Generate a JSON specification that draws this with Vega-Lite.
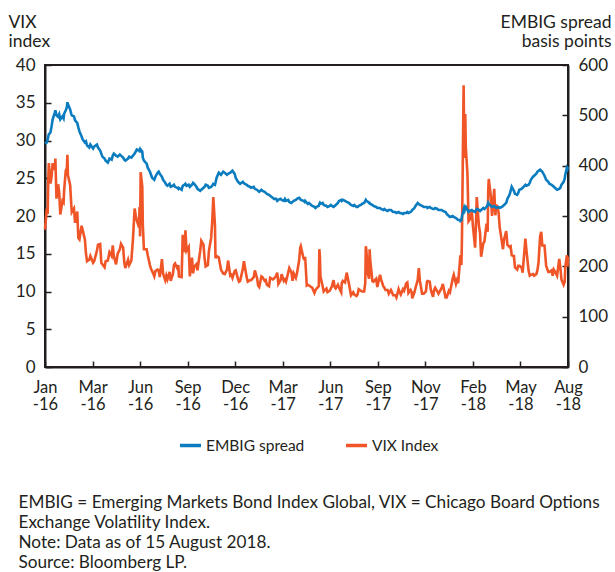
{
  "$schema": "https://vega.github.io/schema/vega-lite/v6.json",
  "width": 523,
  "height": 302,
  "autosize": {"type": "none"},
  "padding": {"left": 45, "top": 65, "right": 47, "bottom": 205},
  "background": "white",
  "config": {
    "font": "Lato",
    "view": {"stroke": "#231f20", "strokeWidth": 2},
    "axis": {
      "domainColor": "#231f20", "domainWidth": 2, "tickColor": "#231f20", "tickWidth": 1.5,
      "tickSize": -6, "labelFontSize": 17, "labelColor": "#231f20", "titleColor": "#231f20",
      "grid": false, "titleFontWeight": "normal", "labelFont": "Lato", "titleFont": "Lato"
    },
    "legend": {"labelFontSize": 15.5, "labelColor": "#231f20", "labelFont": "Lato"}
  },
  "data": {"values": [
{"d":"2016-01-01","v":18.2,"e":444},{"d":"2016-01-04","v":20.7,"e":446},{"d":"2016-01-06","v":20.6,"e":452},{"d":"2016-01-07","v":25.0,"e":458},{"d":"2016-01-08","v":27.0,"e":462},{"d":"2016-01-11","v":24.3,"e":466},{"d":"2016-01-13","v":25.2,"e":478},{"d":"2016-01-15","v":27.0,"e":492},{"d":"2016-01-19","v":26.1,"e":506},{"d":"2016-01-20","v":27.6,"e":510},{"d":"2016-01-22","v":22.3,"e":500},{"d":"2016-01-25","v":24.2,"e":497},{"d":"2016-01-27","v":23.1,"e":502},{"d":"2016-01-29","v":20.2,"e":492},
{"d":"2016-02-02","v":22.0,"e":498},{"d":"2016-02-04","v":21.8,"e":494},{"d":"2016-02-05","v":23.4,"e":503},{"d":"2016-02-08","v":26.0,"e":510},{"d":"2016-02-10","v":26.3,"e":516},{"d":"2016-02-11","v":28.1,"e":526},{"d":"2016-02-12","v":25.4,"e":522},{"d":"2016-02-16","v":24.1,"e":512},{"d":"2016-02-18","v":21.6,"e":503},{"d":"2016-02-19","v":20.5,"e":500},{"d":"2016-02-23","v":21.0,"e":498},{"d":"2016-02-25","v":19.1,"e":490},{"d":"2016-02-29","v":20.6,"e":485},
{"d":"2016-03-02","v":17.1,"e":476},{"d":"2016-03-04","v":16.9,"e":468},{"d":"2016-03-08","v":18.7,"e":458},{"d":"2016-03-10","v":18.1,"e":452},{"d":"2016-03-14","v":16.9,"e":446},{"d":"2016-03-16","v":15.0,"e":448},{"d":"2016-03-18","v":14.0,"e":440},{"d":"2016-03-22","v":14.2,"e":436},{"d":"2016-03-24","v":14.7,"e":442},{"d":"2016-03-29","v":13.8,"e":434},{"d":"2016-03-31","v":14.0,"e":438},
{"d":"2016-04-05","v":15.4,"e":442},{"d":"2016-04-07","v":16.2,"e":436},{"d":"2016-04-11","v":16.3,"e":430},{"d":"2016-04-13","v":13.8,"e":424},{"d":"2016-04-15","v":13.6,"e":418},{"d":"2016-04-19","v":13.2,"e":414},{"d":"2016-04-21","v":14.0,"e":410},{"d":"2016-04-25","v":14.1,"e":406},{"d":"2016-04-28","v":15.2,"e":414},
{"d":"2016-05-02","v":14.7,"e":412},{"d":"2016-05-04","v":16.1,"e":420},{"d":"2016-05-06","v":14.7,"e":424},{"d":"2016-05-10","v":13.6,"e":420},{"d":"2016-05-13","v":15.0,"e":418},{"d":"2016-05-17","v":15.6,"e":422},{"d":"2016-05-19","v":16.3,"e":420},{"d":"2016-05-23","v":15.8,"e":416},{"d":"2016-05-25","v":13.9,"e":412},{"d":"2016-05-27","v":13.1,"e":410},
{"d":"2016-06-01","v":14.2,"e":414},{"d":"2016-06-03","v":13.5,"e":418},{"d":"2016-06-07","v":14.1,"e":416},{"d":"2016-06-10","v":17.0,"e":420},{"d":"2016-06-13","v":21.0,"e":424},{"d":"2016-06-15","v":20.1,"e":428},{"d":"2016-06-17","v":19.4,"e":432},{"d":"2016-06-21","v":18.5,"e":430},{"d":"2016-06-22","v":21.2,"e":432},{"d":"2016-06-23","v":17.3,"e":426},{"d":"2016-06-24","v":25.8,"e":432},{"d":"2016-06-27","v":23.9,"e":428},{"d":"2016-06-28","v":18.8,"e":416},{"d":"2016-06-30","v":15.6,"e":410},
{"d":"2016-07-05","v":15.6,"e":404},{"d":"2016-07-07","v":14.8,"e":396},{"d":"2016-07-11","v":13.5,"e":388},{"d":"2016-07-13","v":13.0,"e":382},{"d":"2016-07-15","v":12.7,"e":376},{"d":"2016-07-19","v":12.0,"e":372},{"d":"2016-07-21","v":12.7,"e":378},{"d":"2016-07-25","v":12.9,"e":386},{"d":"2016-07-27","v":12.8,"e":388},{"d":"2016-07-29","v":11.9,"e":384},
{"d":"2016-08-02","v":14.3,"e":378},{"d":"2016-08-04","v":12.4,"e":372},{"d":"2016-08-08","v":11.5,"e":366},{"d":"2016-08-10","v":12.1,"e":362},{"d":"2016-08-12","v":11.6,"e":360},{"d":"2016-08-16","v":12.6,"e":364},{"d":"2016-08-18","v":11.4,"e":358},{"d":"2016-08-22","v":12.3,"e":360},{"d":"2016-08-24","v":13.5,"e":362},{"d":"2016-08-26","v":13.7,"e":358},{"d":"2016-08-30","v":13.1,"e":356},
{"d":"2016-09-01","v":13.5,"e":354},{"d":"2016-09-02","v":12.0,"e":356},{"d":"2016-09-07","v":11.9,"e":352},{"d":"2016-09-09","v":17.5,"e":360},{"d":"2016-09-12","v":15.2,"e":362},{"d":"2016-09-14","v":18.1,"e":364},{"d":"2016-09-16","v":15.4,"e":360},{"d":"2016-09-20","v":15.9,"e":362},{"d":"2016-09-22","v":12.0,"e":358},{"d":"2016-09-26","v":14.5,"e":362},{"d":"2016-09-28","v":12.4,"e":366},{"d":"2016-09-30","v":13.3,"e":364},
{"d":"2016-10-04","v":13.6,"e":358},{"d":"2016-10-06","v":12.8,"e":354},{"d":"2016-10-11","v":15.4,"e":350},{"d":"2016-10-13","v":16.7,"e":352},{"d":"2016-10-17","v":16.2,"e":356},{"d":"2016-10-19","v":14.4,"e":358},{"d":"2016-10-21","v":13.3,"e":362},{"d":"2016-10-25","v":13.5,"e":360},{"d":"2016-10-27","v":15.4,"e":356},{"d":"2016-10-31","v":17.1,"e":358},
{"d":"2016-11-02","v":19.3,"e":360},{"d":"2016-11-04","v":22.5,"e":364},{"d":"2016-11-07","v":18.7,"e":362},{"d":"2016-11-08","v":14.4,"e":366},{"d":"2016-11-10","v":14.7,"e":376},{"d":"2016-11-14","v":14.5,"e":386},{"d":"2016-11-16","v":13.7,"e":384},{"d":"2016-11-18","v":12.9,"e":382},{"d":"2016-11-22","v":12.4,"e":388},{"d":"2016-11-25","v":12.3,"e":386},{"d":"2016-11-29","v":12.9,"e":382},
{"d":"2016-12-01","v":14.1,"e":384},{"d":"2016-12-05","v":12.1,"e":386},{"d":"2016-12-07","v":12.2,"e":388},{"d":"2016-12-09","v":11.8,"e":390},{"d":"2016-12-13","v":12.7,"e":384},{"d":"2016-12-15","v":12.8,"e":376},{"d":"2016-12-19","v":11.7,"e":368},{"d":"2016-12-21","v":11.3,"e":366},{"d":"2016-12-23","v":11.4,"e":364},{"d":"2016-12-28","v":13.0,"e":368},{"d":"2016-12-30","v":14.0,"e":365},
{"d":"2017-01-04","v":11.9,"e":362},{"d":"2017-01-06","v":11.3,"e":360},{"d":"2017-01-10","v":11.5,"e":358},{"d":"2017-01-12","v":11.5,"e":356},{"d":"2017-01-17","v":11.9,"e":358},{"d":"2017-01-19","v":12.8,"e":354},{"d":"2017-01-23","v":11.8,"e":352},{"d":"2017-01-25","v":10.8,"e":350},{"d":"2017-01-27","v":10.6,"e":348},{"d":"2017-01-31","v":12.0,"e":352},
{"d":"2017-02-02","v":11.9,"e":350},{"d":"2017-02-06","v":11.4,"e":348},{"d":"2017-02-08","v":11.5,"e":346},{"d":"2017-02-10","v":10.9,"e":344},{"d":"2017-02-14","v":10.7,"e":342},{"d":"2017-02-16","v":11.8,"e":340},{"d":"2017-02-21","v":11.6,"e":336},{"d":"2017-02-23","v":11.7,"e":334},{"d":"2017-02-27","v":12.1,"e":334},
{"d":"2017-03-01","v":12.5,"e":330},{"d":"2017-03-03","v":11.0,"e":332},{"d":"2017-03-07","v":11.5,"e":334},{"d":"2017-03-09","v":12.3,"e":332},{"d":"2017-03-13","v":11.4,"e":330},{"d":"2017-03-15","v":11.6,"e":334},{"d":"2017-03-17","v":11.3,"e":330},{"d":"2017-03-21","v":12.5,"e":332},{"d":"2017-03-23","v":13.1,"e":328},{"d":"2017-03-27","v":12.5,"e":326},{"d":"2017-03-29","v":11.4,"e":328},{"d":"2017-03-31","v":12.4,"e":330},
{"d":"2017-04-04","v":11.8,"e":332},{"d":"2017-04-06","v":12.4,"e":334},{"d":"2017-04-10","v":14.1,"e":336},{"d":"2017-04-12","v":15.8,"e":334},{"d":"2017-04-13","v":16.0,"e":332},{"d":"2017-04-18","v":14.4,"e":330},{"d":"2017-04-20","v":14.2,"e":328},{"d":"2017-04-21","v":14.6,"e":330},{"d":"2017-04-24","v":10.8,"e":326},{"d":"2017-04-26","v":10.9,"e":324},{"d":"2017-04-28","v":10.8,"e":326},
{"d":"2017-05-02","v":10.6,"e":322},{"d":"2017-05-04","v":10.5,"e":320},{"d":"2017-05-08","v":9.8,"e":318},{"d":"2017-05-10","v":10.2,"e":316},{"d":"2017-05-12","v":10.4,"e":318},{"d":"2017-05-16","v":10.7,"e":320},{"d":"2017-05-17","v":15.6,"e":324},{"d":"2017-05-18","v":14.7,"e":326},{"d":"2017-05-19","v":12.0,"e":324},{"d":"2017-05-23","v":10.7,"e":326},{"d":"2017-05-25","v":10.0,"e":322},{"d":"2017-05-30","v":10.4,"e":320},
{"d":"2017-06-01","v":9.9,"e":318},{"d":"2017-06-05","v":10.1,"e":320},{"d":"2017-06-07","v":10.4,"e":322},{"d":"2017-06-09","v":10.7,"e":320},{"d":"2017-06-12","v":11.5,"e":318},{"d":"2017-06-14","v":10.6,"e":320},{"d":"2017-06-16","v":10.4,"e":322},{"d":"2017-06-20","v":10.9,"e":326},{"d":"2017-06-22","v":10.5,"e":330},{"d":"2017-06-26","v":9.9,"e":332},{"d":"2017-06-27","v":11.1,"e":330},{"d":"2017-06-29","v":11.4,"e":332},
{"d":"2017-07-03","v":11.2,"e":330},{"d":"2017-07-06","v":12.5,"e":328},{"d":"2017-07-10","v":11.1,"e":326},{"d":"2017-07-12","v":10.3,"e":324},{"d":"2017-07-14","v":9.5,"e":322},{"d":"2017-07-18","v":9.9,"e":320},{"d":"2017-07-20","v":9.6,"e":322},{"d":"2017-07-24","v":9.4,"e":318},{"d":"2017-07-26","v":9.6,"e":318},{"d":"2017-07-28","v":10.3,"e":320},
{"d":"2017-08-01","v":10.1,"e":322},{"d":"2017-08-03","v":10.0,"e":324},{"d":"2017-08-07","v":10.0,"e":326},{"d":"2017-08-09","v":11.1,"e":330},{"d":"2017-08-10","v":16.0,"e":332},{"d":"2017-08-11","v":15.5,"e":330},{"d":"2017-08-14","v":12.3,"e":328},{"d":"2017-08-16","v":11.7,"e":326},{"d":"2017-08-17","v":15.6,"e":326},{"d":"2017-08-18","v":14.3,"e":324},{"d":"2017-08-22","v":11.4,"e":322},{"d":"2017-08-24","v":11.3,"e":320},{"d":"2017-08-29","v":11.7,"e":318},{"d":"2017-08-31","v":10.6,"e":316},
{"d":"2017-09-05","v":12.2,"e":316},{"d":"2017-09-07","v":11.6,"e":314},{"d":"2017-09-11","v":10.7,"e":312},{"d":"2017-09-13","v":10.5,"e":314},{"d":"2017-09-15","v":10.2,"e":312},{"d":"2017-09-19","v":10.2,"e":310},{"d":"2017-09-21","v":9.7,"e":312},{"d":"2017-09-25","v":10.2,"e":312},{"d":"2017-09-27","v":9.9,"e":310},{"d":"2017-09-29","v":9.5,"e":308},
{"d":"2017-10-03","v":9.5,"e":308},{"d":"2017-10-05","v":9.2,"e":306},{"d":"2017-10-09","v":10.3,"e":308},{"d":"2017-10-11","v":9.9,"e":306},{"d":"2017-10-13","v":9.6,"e":306},{"d":"2017-10-17","v":10.3,"e":304},{"d":"2017-10-19","v":10.1,"e":306},{"d":"2017-10-23","v":11.1,"e":306},{"d":"2017-10-25","v":11.2,"e":308},{"d":"2017-10-27","v":9.8,"e":306},{"d":"2017-10-31","v":10.2,"e":308},
{"d":"2017-11-02","v":9.9,"e":310},{"d":"2017-11-03","v":9.1,"e":312},{"d":"2017-11-07","v":9.9,"e":316},{"d":"2017-11-09","v":10.5,"e":320},{"d":"2017-11-13","v":11.5,"e":326},{"d":"2017-11-15","v":13.1,"e":324},{"d":"2017-11-17","v":11.4,"e":322},{"d":"2017-11-21","v":9.7,"e":320},{"d":"2017-11-24","v":9.7,"e":318},{"d":"2017-11-28","v":10.0,"e":318},{"d":"2017-11-30","v":11.3,"e":318},
{"d":"2017-12-01","v":11.4,"e":316},{"d":"2017-12-05","v":11.3,"e":318},{"d":"2017-12-07","v":10.2,"e":316},{"d":"2017-12-11","v":9.3,"e":314},{"d":"2017-12-13","v":10.2,"e":314},{"d":"2017-12-15","v":10.5,"e":316},{"d":"2017-12-19","v":10.0,"e":314},{"d":"2017-12-21","v":9.7,"e":312},{"d":"2017-12-27","v":10.5,"e":312},{"d":"2017-12-29","v":11.0,"e":310},
{"d":"2018-01-03","v":9.2,"e":308},{"d":"2018-01-05","v":9.2,"e":304},{"d":"2018-01-09","v":10.1,"e":300},{"d":"2018-01-11","v":9.9,"e":298},{"d":"2018-01-16","v":11.7,"e":300},{"d":"2018-01-18","v":12.2,"e":298},{"d":"2018-01-22","v":11.0,"e":296},{"d":"2018-01-24","v":11.5,"e":294},{"d":"2018-01-26","v":11.1,"e":292},{"d":"2018-01-29","v":13.8,"e":292},{"d":"2018-01-30","v":14.8,"e":290},
{"d":"2018-02-01","v":13.5,"e":292},{"d":"2018-02-02","v":17.3,"e":300},{"d":"2018-02-05","v":37.3,"e":312},{"d":"2018-02-06","v":30.0,"e":316},{"d":"2018-02-07","v":27.7,"e":312},{"d":"2018-02-08","v":33.5,"e":316},{"d":"2018-02-09","v":29.1,"e":318},{"d":"2018-02-12","v":25.6,"e":312},{"d":"2018-02-14","v":19.3,"e":308},{"d":"2018-02-16","v":19.5,"e":310},{"d":"2018-02-20","v":20.6,"e":312},{"d":"2018-02-22","v":18.7,"e":310},{"d":"2018-02-26","v":15.8,"e":308},{"d":"2018-02-28","v":19.9,"e":312},
{"d":"2018-03-01","v":22.5,"e":314},{"d":"2018-03-05","v":18.7,"e":312},{"d":"2018-03-07","v":17.8,"e":310},{"d":"2018-03-09","v":14.6,"e":312},{"d":"2018-03-13","v":16.4,"e":316},{"d":"2018-03-15","v":16.6,"e":314},{"d":"2018-03-19","v":19.0,"e":318},{"d":"2018-03-21","v":17.9,"e":322},{"d":"2018-03-22","v":23.3,"e":326},{"d":"2018-03-23","v":24.9,"e":324},{"d":"2018-03-27","v":22.5,"e":320},{"d":"2018-03-29","v":20.0,"e":318},
{"d":"2018-04-02","v":23.6,"e":320},{"d":"2018-04-04","v":20.1,"e":318},{"d":"2018-04-06","v":21.5,"e":316},{"d":"2018-04-10","v":20.5,"e":318},{"d":"2018-04-12","v":18.5,"e":316},{"d":"2018-04-16","v":16.6,"e":318},{"d":"2018-04-18","v":15.6,"e":320},{"d":"2018-04-20","v":16.9,"e":322},{"d":"2018-04-24","v":18.0,"e":326},{"d":"2018-04-26","v":16.2,"e":334},{"d":"2018-04-30","v":15.9,"e":342},
{"d":"2018-05-02","v":16.0,"e":350},{"d":"2018-05-04","v":14.8,"e":358},{"d":"2018-05-08","v":14.7,"e":350},{"d":"2018-05-10","v":13.2,"e":344},{"d":"2018-05-14","v":12.9,"e":342},{"d":"2018-05-16","v":13.4,"e":346},{"d":"2018-05-18","v":13.4,"e":352},{"d":"2018-05-22","v":13.2,"e":354},{"d":"2018-05-24","v":12.5,"e":356},{"d":"2018-05-29","v":17.0,"e":362},{"d":"2018-05-31","v":15.4,"e":360},
{"d":"2018-06-04","v":12.7,"e":362},{"d":"2018-06-06","v":12.1,"e":366},{"d":"2018-06-08","v":12.2,"e":372},{"d":"2018-06-12","v":12.3,"e":378},{"d":"2018-06-14","v":12.1,"e":380},{"d":"2018-06-18","v":12.3,"e":384},{"d":"2018-06-20","v":12.8,"e":388},{"d":"2018-06-22","v":13.8,"e":390},{"d":"2018-06-25","v":17.3,"e":392},{"d":"2018-06-27","v":17.9,"e":390},{"d":"2018-06-29","v":16.1,"e":388},
{"d":"2018-07-03","v":16.1,"e":380},{"d":"2018-07-06","v":13.4,"e":372},{"d":"2018-07-10","v":12.6,"e":368},{"d":"2018-07-12","v":12.6,"e":364},{"d":"2018-07-16","v":12.8,"e":362},{"d":"2018-07-18","v":12.1,"e":360},{"d":"2018-07-20","v":12.9,"e":358},{"d":"2018-07-24","v":12.4,"e":354},{"d":"2018-07-26","v":12.1,"e":352},{"d":"2018-07-30","v":14.3,"e":354},
{"d":"2018-08-01","v":13.2,"e":356},{"d":"2018-08-03","v":11.6,"e":362},{"d":"2018-08-07","v":10.9,"e":368},{"d":"2018-08-09","v":11.3,"e":374},{"d":"2018-08-10","v":13.2,"e":382},{"d":"2018-08-13","v":14.8,"e":396},{"d":"2018-08-14","v":13.3,"e":394},{"d":"2018-08-15","v":14.6,"e":398}
  ]},
  "encoding": {
    "x": {
      "field": "d", "type": "temporal",
      "scale": {"type": "utc", "domain": [{"year": 2016, "month": 1, "date": 1, "utc": true}, {"year": 2018, "month": 8, "date": 15, "utc": true}]},
      "axis": {
        "values": [
          {"year": 2016, "month": 1, "date": 1, "utc": true},
          {"year": 2016, "month": 3, "date": 28, "utc": true},
          {"year": 2016, "month": 6, "date": 23, "utc": true},
          {"year": 2016, "month": 9, "date": 18, "utc": true},
          {"year": 2016, "month": 12, "date": 14, "utc": true},
          {"year": 2017, "month": 3, "date": 11, "utc": true},
          {"year": 2017, "month": 6, "date": 6, "utc": true},
          {"year": 2017, "month": 9, "date": 1, "utc": true},
          {"year": 2017, "month": 11, "date": 27, "utc": true},
          {"year": 2018, "month": 2, "date": 22, "utc": true},
          {"year": 2018, "month": 5, "date": 20, "utc": true},
          {"year": 2018, "month": 8, "date": 15, "utc": true}
        ],
        "labelExpr": "[utcFormat(datum.value, '%b'), '-' + utcFormat(datum.value, '%y')]",
        "labelFontSize": 16.5,
        "labelLineHeight": 17.5,
        "labelPadding": 18,
        "labelFlush": false,
        "labelOverlap": false,
        "title": ["EMBIG = Emerging Markets Bond Index Global, VIX = Chicago Board Options", "Exchange Volatility Index.", "Note: Data as of 15 August 2018.", "Source: Bloomberg LP."],
        "titleFontSize": 17.2,
        "titleLineHeight": 20.2,
        "titleAlign": "left",
        "titleBaseline": "top",
        "titleX": -27,
        "titleY": 126
      }
    }
  },
  "layer": [
    {
      "mark": {"type": "line", "strokeWidth": 2.6, "interpolate": "linear"},
      "encoding": {
        "y": {
          "field": "v", "type": "quantitative",
          "scale": {"domain": [0, 40]},
          "axis": {
            "values": [0, 5, 10, 15, 20, 25, 30, 35, 40],
            "labelPadding": 16,
            "title": ["VIX", "index"],
            "titleAngle": 0, "titleAlign": "left", "titleBaseline": "top",
            "titleFontSize": 17.5, "titleLineHeight": 19,
            "titleX": -37, "titleY": -52
          }
        },
        "color": {
          "datum": "VIX Index",
          "scale": {"domain": ["EMBIG spread", "VIX Index"], "range": ["#0b7cbf", "#ef5527"]},
          "legend": {
            "title": null, "orient": "none", "direction": "horizontal",
            "legendX": 133, "legendY": 368,
            "symbolType": "stroke", "symbolSize": 440, "symbolStrokeWidth": 3.5,
            "labelOffset": 3, "columnPadding": 34
          }
        }
      }
    },
    {
      "mark": {"type": "line", "strokeWidth": 2.6, "interpolate": "linear"},
      "encoding": {
        "y": {
          "field": "e", "type": "quantitative",
          "scale": {"domain": [0, 600]},
          "axis": {
            "orient": "right",
            "values": [0, 100, 200, 300, 400, 500, 600],
            "labelPadding": 16,
            "title": ["EMBIG spread", "basis points"],
            "titleAngle": 0, "titleAlign": "right", "titleBaseline": "top",
            "titleFontSize": 17.5, "titleLineHeight": 19,
            "titleX": 43, "titleY": -52
          }
        },
        "color": {"datum": "EMBIG spread"}
      }
    }
  ],
  "resolve": {"scale": {"y": "independent"}}
}
